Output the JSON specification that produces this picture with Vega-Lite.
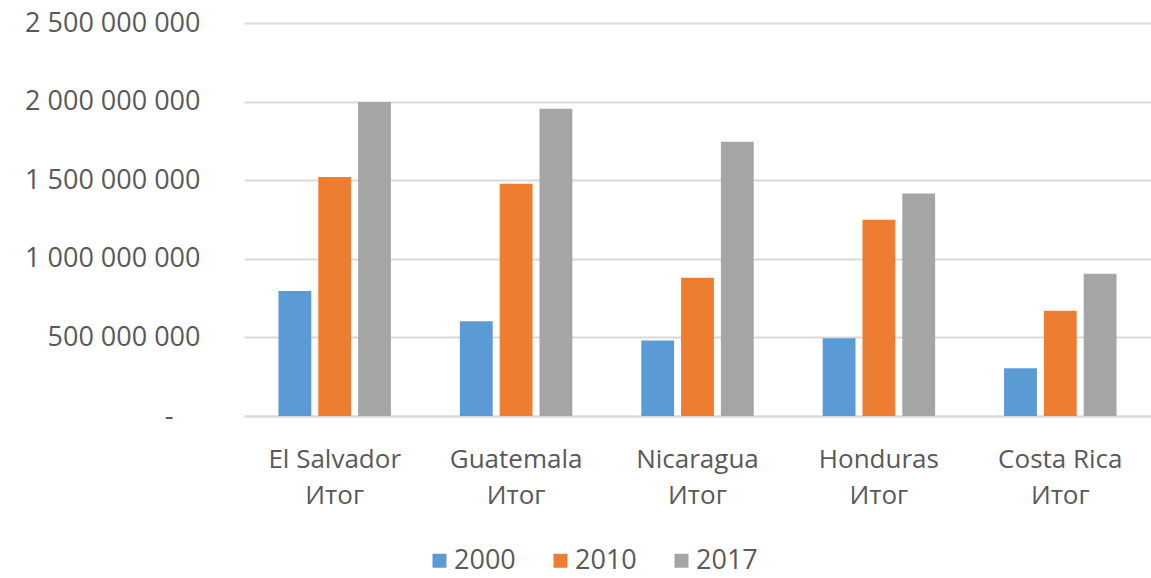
{
  "$schema": "https://vega.github.io/schema/vega-lite/v6.json",
  "autosize": {"type": "none"},
  "padding": {"left": 244, "top": 23, "right": 0, "bottom": 162},
  "width": 907,
  "height": 393,
  "background": "white",
  "config": {
    "view": {"stroke": null},
    "font": "Open Sans"
  },
  "data": {
    "values": [
      {"country": "El Salvador", "year": "2000", "value": 795000000},
      {"country": "El Salvador", "year": "2010", "value": 1520000000},
      {"country": "El Salvador", "year": "2017", "value": 1997000000},
      {"country": "Guatemala", "year": "2000", "value": 602000000},
      {"country": "Guatemala", "year": "2010", "value": 1477000000},
      {"country": "Guatemala", "year": "2017", "value": 1954000000},
      {"country": "Nicaragua", "year": "2000", "value": 480000000},
      {"country": "Nicaragua", "year": "2010", "value": 879000000},
      {"country": "Nicaragua", "year": "2017", "value": 1745000000},
      {"country": "Honduras", "year": "2000", "value": 495000000},
      {"country": "Honduras", "year": "2010", "value": 1249000000},
      {"country": "Honduras", "year": "2017", "value": 1416000000},
      {"country": "Costa Rica", "year": "2000", "value": 303000000},
      {"country": "Costa Rica", "year": "2010", "value": 670000000},
      {"country": "Costa Rica", "year": "2017", "value": 905000000}
    ]
  },
  "mark": {"type": "bar"},
  "encoding": {
    "x": {
      "field": "country",
      "type": "nominal",
      "sort": null,
      "scale": {"paddingInner": 0.38, "paddingOuter": 0.19},
      "axis": {
        "title": null,
        "labelAngle": 0,
        "labelFontSize": 26,
        "labelColor": "#595959",
        "labelPadding": 30,
        "labelLineHeight": 36,
        "labelBaseline": "top",
        "labelExpr": "[datum.label, 'Итог']",
        "labelLimit": 300,
        "ticks": false,
        "domainColor": "#d9d9d9",
        "domainWidth": 2
      }
    },
    "xOffset": {
      "field": "year",
      "type": "nominal",
      "scale": {"paddingInner": 0.175, "paddingOuter": 0}
    },
    "y": {
      "field": "value",
      "type": "quantitative",
      "scale": {"domain": [0, 2500000000], "nice": false},
      "axis": {
        "title": null,
        "values": [0, 500000000, 1000000000, 1500000000, 2000000000, 2500000000],
        "labelExpr": "datum.value == 0 ? '-\u2002\u2002\u200b' : replace(format(datum.value, ','), /,/g, ' ')",
        "labelFontSize": 27,
        "labelColor": "#595959",
        "labelPadding": 44,
        "labelLimit": 300,
        "ticks": false,
        "domain": false,
        "gridColor": "#d9d9d9",
        "gridWidth": 2
      }
    },
    "color": {
      "field": "year",
      "type": "nominal",
      "scale": {"domain": ["2000", "2010", "2017"], "range": ["#5B9BD5", "#ED7D31", "#A5A5A5"]},
      "legend": {
        "title": null,
        "orient": "none",
        "direction": "horizontal",
        "legendX": 182,
        "legendY": 524,
        "symbolType": "square",
        "symbolSize": 196,
        "symbolStrokeWidth": 0,
        "labelFontSize": 27,
        "labelColor": "#595959",
        "labelOffset": 1,
        "columnPadding": 31
      }
    }
  }
}
